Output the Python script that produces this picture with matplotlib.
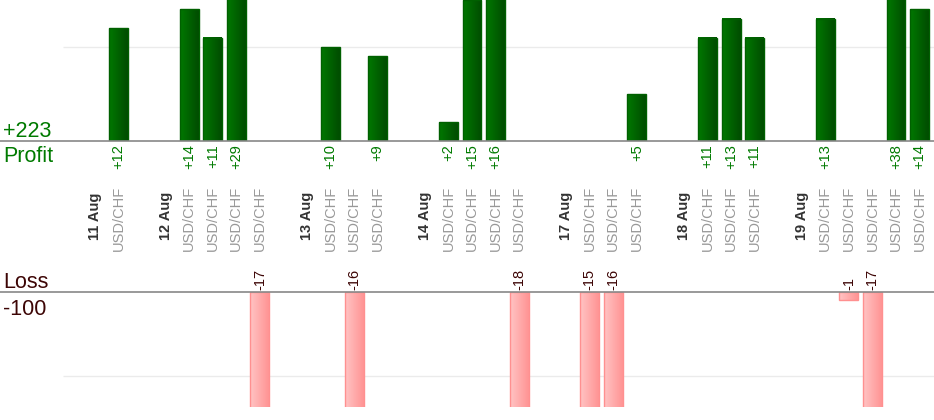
import numpy as np
import matplotlib
matplotlib.use("Agg")
import matplotlib.pyplot as plt
from matplotlib.colors import LinearSegmentedColormap
from matplotlib.transforms import blended_transform_factory

plt.rcParams['font.family'] = ['Liberation Sans', 'DejaVu Sans']

# data: one list of trade results per trading day
dates = ['11 Aug', '12 Aug', '13 Aug', '14 Aug', '17 Aug', '18 Aug', '19 Aug']
day_results = [
    [12],
    [14, 11, 29, -17],
    [10, -16, 9],
    [2, 15, 16, -18],
    [-15, -16, 5],
    [11, 13, 11],
    [13, -1, -17, 38, 14],
]
pair = 'USD/CHF'

# lay out slots: date label, trades, empty gap
date_pos, trade_pos, trade_val = [], [], []
slot = 0
for d, res in zip(dates, day_results):
    date_pos.append(slot)
    slot += 1
    for v in res:
        trade_pos.append(slot)
        trade_val.append(v)
        slot += 1
    slot += 1  # gap between days
trade_pos = np.array(trade_pos)
trade_val = np.array(trade_val)
profit_total = trade_val[trade_val > 0].sum()
loss_total = trade_val[trade_val < 0].sum()

W, H = 934, 420
fig = plt.figure(figsize=(W / 100, H / 100), dpi=100)

step = 23.56
x0px = 95
xlim = (-x0px / step, (W - x0px) / step)
grid_start = (63 - x0px) / step

def px(y):
    # pixel row -> figure fraction
    return 1 - y / H

ax_top = fig.add_axes([0, px(141), 1, 141 / H])
ax_bot = fig.add_axes([0, px(407), 1, 115 / H])
top_ylim = (0, 15)
bot_ylim = (-115 / 8.4, 0)

green = '#007a00'
loss_col = '#3d0505'

green_cmap = LinearSegmentedColormap.from_list('g', ['#007800', '#004c00'])
red_cmap = LinearSegmentedColormap.from_list('r', ['#ffc4c4', '#ff9494'])
grad = np.linspace(0, 1, 64).reshape(1, -1)

def gradient_bars(ax, xs, vals, cmap, edge, ylim):
    bars = ax.bar(xs, vals, width=0.8, color=cmap(0.5), edgecolor=edge,
                  linewidth=1, zorder=2)
    for b in bars:
        x, w = b.get_x(), b.get_width()
        y0, y1 = sorted([b.get_y(), b.get_y() + b.get_height()])
        y0, y1 = max(y0, ylim[0]), min(y1, ylim[1])
        im = ax.imshow(grad, extent=[x, x + w, y0, y1], cmap=cmap,
                       aspect='auto', zorder=2.5, interpolation='bilinear')
        b.set_facecolor('none')
        b.set_zorder(3)

pos = trade_val > 0
neg = trade_val < 0
gradient_bars(ax_top, trade_pos[pos], trade_val[pos], green_cmap, '#006000', top_ylim)
gradient_bars(ax_bot, trade_pos[neg], trade_val[neg], red_cmap, '#ff9090', bot_ylim)

ax_top.set_xlim(*xlim)
ax_top.set_ylim(*top_ylim)
ax_bot.set_xlim(*xlim)
ax_bot.set_ylim(*bot_ylim)

ax_top.hlines(10, grid_start, xlim[1], color='#ebebeb', lw=1, zorder=1)
ax_bot.hlines(-10, grid_start, xlim[1], color='#ebebeb', lw=1, zorder=1)
ax_top.axhline(0, color='#888888', lw=1.2, zorder=4, clip_on=False)
ax_bot.axhline(0, color='#888888', lw=1.2, zorder=4, clip_on=False)

for ax in (ax_top, ax_bot):
    ax.axis('off')

# labels in the middle band, y in pixel rows
tr = blended_transform_factory(ax_top.transData, fig.transFigure)

for p, v in zip(trade_pos, trade_val):
    if v > 0:
        fig.text(p, px(144), f'+{v}', transform=tr, rotation=90, ha='center',
                 va='top', color=green, fontsize=10.5)
    else:
        fig.text(p, px(290), f'{v}', transform=tr, rotation=90, ha='center',
                 va='bottom', color=loss_col, fontsize=10.5)
    fig.text(p, px(218), pair, transform=tr, rotation=90, ha='center',
             va='center', color='#999999', fontsize=10.5)

for p, d in zip(date_pos, dates):
    fig.text(p, px(216), d, transform=tr, rotation=90, ha='center',
             va='center', color='#333333', fontsize=10.5, fontweight='bold')

fig.text(3 / W, px(137), f'+{profit_total}', color=green, fontsize=15.5, va='baseline')
fig.text(3 / W, px(162), 'Profit', color=green, fontsize=15.5, va='baseline')
fig.text(3 / W, px(288), 'Loss', color=loss_col, fontsize=15.5, va='baseline')
fig.text(3 / W, px(315), f'{loss_total}', color=loss_col, fontsize=15.5, va='baseline')

fig.savefig('out.png', dpi=100)
